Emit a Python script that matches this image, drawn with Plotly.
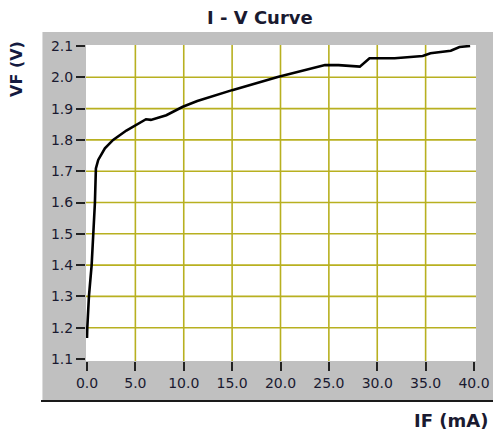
import plotly.graph_objects as go

# ---- data ----
IF_mA = [0.0, 0.03, 0.2, 0.48, 0.65, 0.82, 0.92, 1.16, 1.85, 2.7, 4.07, 5.1, 6.1, 6.6,
         8.2, 9.9, 11.4, 15.0, 19.8, 24.6, 26.0, 28.2, 29.2, 31.8, 34.7, 35.5, 37.6,
         38.5, 39.6]
VF_V = [1.167, 1.2, 1.3, 1.4, 1.5, 1.6, 1.709, 1.736, 1.773, 1.80, 1.83, 1.848, 1.866,
        1.864, 1.879, 1.906, 1.924, 1.959, 2.002, 2.039, 2.039, 2.034, 2.061, 2.061,
        2.068, 2.077, 2.085, 2.097, 2.10]

x_ticks = [0.0, 5.0, 10.0, 15.0, 20.0, 25.0, 30.0, 35.0, 40.0]
y_ticks = [1.1, 1.2, 1.3, 1.4, 1.5, 1.6, 1.7, 1.8, 1.9, 2.0, 2.1]

title_text = "I - V Curve"
x_title = "IF (mA)"
y_title = "VF (V)"

# ---- layout geometry (pixels) ----
W, H = 493, 434
L, R, T, B = 86, 17, 45, 73
PW, PH = W - L - R, H - T - B


def px(xp):
    return (xp - L) / PW


def py(yp):
    return (H - B - yp) / PH


GRID = "#b8b020"
TXT = "#1a1a30"
FONT = "DejaVu Sans"

fig = go.Figure()
fig.add_trace(go.Scatter(x=IF_mA, y=VF_V, mode="lines",
                         line=dict(color="black", width=2.6), hoverinfo="skip",
                         showlegend=False))

shapes = [
    # grey panel
    dict(type="rect", xref="paper", yref="paper", x0=px(42), x1=px(500), y0=py(400),
         y1=py(32), fillcolor="#c0c0c0", line=dict(width=0), layer="below"),
    # light bevel on left edge
    dict(type="line", xref="paper", yref="paper", x0=px(42.5), x1=px(42.5), y0=py(400),
         y1=py(32), line=dict(color="#dcdcdc", width=1), layer="below"),
    # white plotting area
    dict(type="rect", xref="paper", yref="paper", x0=0, x1=1, y0=0, y1=1,
         fillcolor="white", line=dict(width=0), layer="below"),
    # dark bottom edge of panel
    dict(type="line", xref="paper", yref="paper", x0=px(41), x1=px(500), y0=py(401),
         y1=py(401), line=dict(color="#1a1a1a", width=2), layer="below"),
]
for xv in x_ticks[1:-1]:
    shapes.append(dict(type="line", xref="x", yref="y domain", x0=xv, x1=xv, y0=0, y1=1,
                       line=dict(color=GRID, width=1.6), layer="below"))
for yv in y_ticks[1:-1]:
    shapes.append(dict(type="line", xref="x domain", yref="y", x0=0, x1=1, y0=yv, y1=yv,
                       line=dict(color=GRID, width=1.6), layer="below"))

annotations = [
    dict(text="<b>%s</b>" % title_text, xref="paper", yref="paper", x=px(260), y=py(18),
         showarrow=False, font=dict(family=FONT, size=18, color=TXT),
         xanchor="center", yanchor="middle"),
    dict(text="<b>%s</b>" % y_title, xref="paper", yref="paper", x=px(17), y=py(69),
         showarrow=False, textangle=-90, font=dict(family=FONT, size=16, color="#141a40"),
         xanchor="center", yanchor="middle"),
    dict(text="<b>%s</b>" % x_title, xref="paper", yref="paper", x=px(490), y=py(420),
         showarrow=False, font=dict(family=FONT, size=18, color=TXT),
         xanchor="right", yanchor="middle"),
]

fig.update_layout(
    width=W, height=H, autosize=False,
    margin=dict(l=L, r=R, t=T, b=B, pad=0, autoexpand=False),
    paper_bgcolor="white", plot_bgcolor="white",
    shapes=shapes, annotations=annotations,
    xaxis=dict(range=[-0.103, 40.207], tickmode="array", tickvals=x_ticks,
               ticktext=["%.1f" % v for v in x_ticks], showgrid=False, zeroline=False,
               showline=False, ticks="outside", ticklen=9, tickwidth=1.5,
               tickcolor="#222222", tickfont=dict(family=FONT, size=14, color=TXT),
               automargin=False, fixedrange=True),
    yaxis=dict(range=[1.0936, 2.1032], tickmode="array", tickvals=y_ticks,
               ticktext=["%.1f" % v for v in y_ticks], showgrid=False, zeroline=False,
               showline=False, ticks="outside", ticklen=9, tickwidth=1.5,
               tickcolor="#222222", tickfont=dict(family=FONT, size=14, color=TXT),
               automargin=False, fixedrange=True),
)

fig.write_html(
    "out.html",
    config={"responsive": False, "displayModeBar": False},
    post_script="document.body.style.margin='0';document.body.style.overflow='hidden';",
)
